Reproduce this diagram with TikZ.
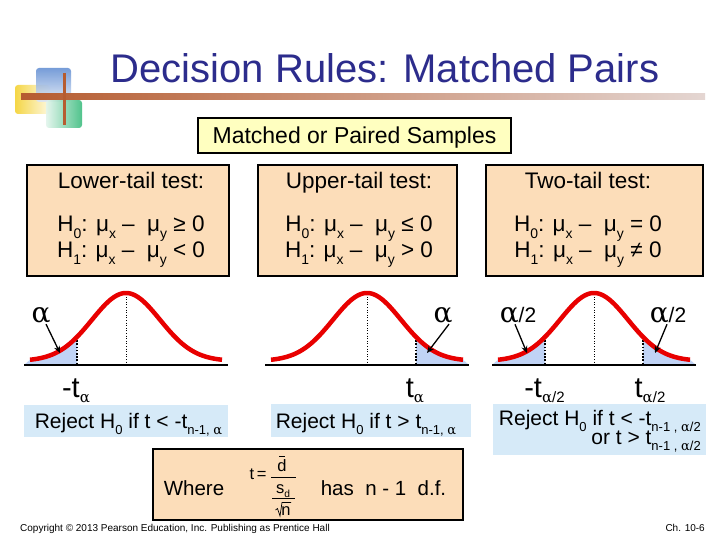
\documentclass[tikz,border=0pt]{standalone}
\usepackage{fontspec}
\usepackage{graphicx}
\setmainfont{Liberation Sans}
\newfontfamily\grk{DejaVu Serif}
\usetikzlibrary{arrows.meta}

\definecolor{titleblue}{RGB}{44,44,140}
\definecolor{peach}{RGB}{252,221,185}
\definecolor{paleyellow}{RGB}{255,255,192}
\definecolor{rejblue}{RGB}{214,234,248}
\definecolor{tailblue}{RGB}{192,211,245}
\definecolor{curvered}{RGB}{232,0,0}
\definecolor{barbrown}{RGB}{182,92,48}
\definecolor{barmid}{RGB}{214,140,100}
\definecolor{barlight}{RGB}{228,214,210}
\definecolor{logoblue}{RGB}{95,140,210}
\definecolor{logoyellow}{RGB}{245,210,50}
\definecolor{logogreen}{RGB}{50,185,120}

\newcommand\lo[1]{\raisebox{-0.3em}{\scalebox{0.62}{#1}}}
\newcommand\bellfn{361-68*exp(-0.5*(\x/34)*(\x/34))}
\newcommand\ltail[1]{\fill[tailblue] ({#1-102},365) -- plot[domain=-96:-49,samples=30] ({#1+\x},{\bellfn}) -- ({#1-49},365) -- cycle;
  \draw[taildot] ({#1-49},337) -- ({#1-49},364);}
\newcommand\rtail[1]{\fill[tailblue] ({#1+49},365) -- plot[domain=49:96,samples=30] ({#1+\x},{\bellfn}) -- ({#1+102},365) -- cycle;
  \draw[taildot] ({#1+49},337) -- ({#1+49},364);}
\newcommand\bellrest[1]{\draw[axisline] ({#1-102},365) -- ({#1+102},365);
  \draw[middot] (#1,294) -- (#1,364);
  \draw[bell] plot[domain=-96:96,samples=90,smooth] ({#1+\x},{\bellfn});}

\tikzset{
  hbox/.style={draw=black, line width=2pt, fill=peach, inner sep=0pt},
  rbox/.style={fill=rejblue, inner sep=0pt},
  axisline/.style={line width=2.5pt, black},
  bell/.style={line width=4.5pt, curvered},
  middot/.style={line width=0.6pt, dotted},
  taildot/.style={line width=1.6pt, dash pattern=on 1.6pt off 1.6pt},
  lblarrow/.style={line width=1.3pt, -{Stealth[length=7pt,width=6pt]}},
  hdr/.style={font=\fontsize{22.5}{26}\selectfont, anchor=base, inner sep=0pt},
  rtext/.style={font=\fontsize{21}{24}\selectfont, inner sep=0pt},
  alab/.style={font=\fontsize{21}{21}\selectfont, inner sep=1pt},
  tlab/.style={font=\fontsize{29}{29}\selectfont, anchor=base, inner sep=0pt},
  wtext/.style={font=\fontsize{20.5}{24}\selectfont, anchor=base, inner sep=0pt},
  fmt/.style={font=\fontsize{16.5}{18}\selectfont, anchor=base, inner sep=0pt},
  fline/.style={line width=0.8pt, black},
  foot/.style={font=\fontsize{10}{12}\selectfont, anchor=base, inner sep=0pt}
}
\newcommand\bigal{{\grk\fontsize{28}{28}\selectfont α}}

\begin{document}
\begin{tikzpicture}[x=1pt,y=-1pt]
\useasboundingbox (0,0) rectangle (720,540);
\fill[white] (0,0) rectangle (720,540);

% logo
\shade[left color=logoyellow, right color=logoyellow!15, rounded corners=3pt, opacity=0.9] (15,85) rectangle (50,114);
\shade[top color=logoblue, bottom color=logoblue!20, rounded corners=3pt, opacity=0.85] (36,68) rectangle (71,102);
\shade[left color=logogreen!15, right color=logogreen, rounded corners=3pt, opacity=0.85] (46,100) rectangle (82,128);
\shade[left color=barbrown, middle color=barmid, right color=barlight] (21,93.5) rectangle (705,99.5);
\draw[line width=3pt, barbrown] (64,73) -- (64,125);

% title
\node[anchor=base, text=titleblue, font=\fontsize{40}{42}\selectfont, inner sep=0pt] (title) at (385,83) {Decision Rules: Matched Pairs};

% matched box
\node[draw, line width=2pt, fill=paleyellow, minimum width=313pt, minimum height=35pt, inner sep=0pt] (mps) at (354.5,135.5) {};
\node[anchor=base, font=\fontsize{23}{26}\selectfont, inner sep=0pt] (mpst) at (354.5,143.5) {Matched or Paired Samples};

% hypothesis boxes
\node[hbox, minimum width=202pt, minimum height=111pt] (b1) at (128,220.5) {};
\node[hbox, minimum width=199pt, minimum height=111pt] (b2) at (357.5,220.5) {};
\node[hbox, minimum width=217pt, minimum height=111pt] (b3) at (594.5,220.5) {};

\node[hdr] (h1) at (131,189) {Lower-tail test:};
\node[hdr] (h1a) at (131,232) {H\lo{0}: μ\lo{x} –\ \ μ\lo{y} ≥ 0};
\node[hdr] (h1b) at (131,258) {H\lo{1}: μ\lo{x} –\ \ μ\lo{y} < 0};

\node[hdr] (h2) at (359,189) {Upper-tail test:};
\node[hdr] (h2a) at (359,232) {H\lo{0}: μ\lo{x} –\ \ μ\lo{y} ≤ 0};
\node[hdr] (h2b) at (359,258) {H\lo{1}: μ\lo{x} –\ \ μ\lo{y} > 0};

\node[hdr] (h3) at (588,189) {Two-tail test:};
\node[hdr] (h3a) at (588,232) {H\lo{0}: μ\lo{x} –\ \ μ\lo{y} = 0};
\node[hdr] (h3b) at (588,258) {H\lo{1}: μ\lo{x} –\ \ μ\lo{y} ≠ 0};

% curves
\ltail{126}
\bellrest{126}
\rtail{367}
\bellrest{367}
\ltail{594}
\rtail{594}
\bellrest{594}

% alpha labels and arrows
\node[alab] (al1) at (41,315) {\bigal};
\node[alab] (al2) at (443,315) {\bigal};
\node[alab] (al3a) at (518,315) {\bigal/2};
\node[alab] (al3b) at (668,315) {\bigal/2};
\coordinate (tip1) at (60,353);
\coordinate (tip2) at (427,353);
\coordinate (tip3a) at (527,353);
\coordinate (tip3b) at (655,353);
\draw[lblarrow] ([xshift=5pt]al1.south) -- (tip1);
\draw[lblarrow] ([xshift=6pt]al2.south) -- (tip2);
\draw[lblarrow] ([xshift=-3pt]al3a.south) -- (tip3a);
\draw[lblarrow] ([xshift=-1pt]al3b.south) -- (tip3b);

% t labels
\node[tlab] (tl1) at (76,397) {-t\raisebox{-5pt}{\fontsize{15}{15}\selectfont\grk α}};
\node[tlab] (tl2) at (415,397) {t\raisebox{-5pt}{\fontsize{15}{15}\selectfont\grk α}};
\node[tlab] (tl3a) at (544.5,397) {-t\raisebox{-5pt}{\fontsize{15}{15}\selectfont{\grk α}/2}};
\node[tlab] (tl3b) at (650,397) {t\raisebox{-5pt}{\fontsize{15}{15}\selectfont{\grk α}/2}};

% reject boxes
\node[rbox, minimum width=204pt, minimum height=32pt] (r1) at (126,421) {};
\node[rbox, minimum width=200pt, minimum height=33pt] (r2) at (371,420.5) {};
\node[rbox, minimum width=213pt, minimum height=51pt] (r3) at (599.5,429.5) {};
\node[rtext, anchor=base] (r1t) at (128.5,428) {Reject H\lo{0} if t < -t\lo{n-1, {\grk α}}};
\node[rtext, anchor=base] (r2t) at (366,428) {Reject H\lo{0} if t > t\lo{n-1, {\grk α}}};
\node[rtext, anchor=base east] (r3t) at (701,425) {Reject H\lo{0} if t < -t\lo{n-1 , {\grk α}/2}};
\node[rtext, anchor=base east] (r3u) at (701,444) {or t > t\lo{n-1 , {\grk α}/2}};

% where box
\node[draw, line width=1.5pt, fill=peach, minimum width=310pt, minimum height=71pt, inner sep=0pt] (wb) at (308,484.5) {};
\node[wtext] (wh) at (194,495) {Where};
\node[wtext] (df) at (383.5,495) {has\ \ n - 1\ \ d.f.};
% formula t = dbar / (s_d / sqrt n)
\node[fmt] (ft) at (258,479.5) {t\,=};
\node[fmt] (fd) at (282,471) {d};
\draw[line width=0.7pt] (279,456) -- (285,456);
\draw[fline] (271,477) -- (296,477);
\node[fmt] (fs) at (283,493) {s\lo{d}};
\draw[fline] (272,498.5) -- (295,498.5);
\node[fmt] (fn) at (286,515) {n};
\draw[line width=0.7pt] (275.5,510) -- (277.5,508.5) -- (280,516) -- (282,502.5) -- (291,502.5);

% footer
\node[foot, anchor=base west] (copy) at (20,531) {Copyright © 2013 Pearson Education, Inc. Publishing as Prentice Hall};
\node[foot, anchor=base east] (ch) at (705,531) {Ch. 10-6};
\end{tikzpicture}
\end{document}
